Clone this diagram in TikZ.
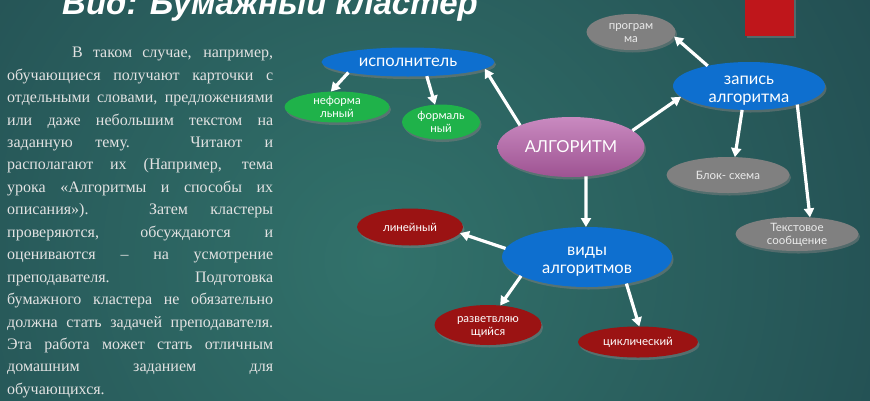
\documentclass[tikz,border=0pt]{standalone}
\usepackage{fontspec}
\setmainfont{Liberation Serif}
\newfontfamily\nodefont{Lato}
\newfontfamily\titlefont{Liberation Sans}
\usetikzlibrary{shapes.geometric,arrows.meta,shadows}
\definecolor{bgin}{HTML}{32726B}
\definecolor{bgout}{HTML}{17333F}
\definecolor{nblue}{HTML}{0E6FCF}
\definecolor{ngreen}{HTML}{1FB24A}
\definecolor{ngray}{HTML}{808080}
\definecolor{nred}{HTML}{9B1313}
\definecolor{ptop}{HTML}{C98AC0}
\definecolor{pbot}{HTML}{9E5392}
\definecolor{rrect}{HTML}{BF161B}
\definecolor{ptext}{HTML}{E2E2E2}
\tikzset{
  bub/.style={ellipse, inner sep=0pt, outer sep=0pt, align=center, text=white,
    drop shadow={shadow xshift=1.5pt, shadow yshift=-2.5pt, opacity=0.5}},
  bigbub/.style={bub, font=\nodefont\fontsize{16.5}{18}\selectfont},
  smallbub/.style={bub, font=\nodefont\fontsize{11.5}{13}\selectfont},
  bluebub/.style={bigbub, fill=nblue},
  greenbub/.style={smallbub, fill=ngreen},
  graybub/.style={smallbub, fill=ngray, text=white!92!black},
  redbub/.style={smallbub, fill=nred},
  twobig/.style={text height=32pt, text depth=0pt},
  twosmall/.style={text height=20pt, text depth=0pt},
  arr/.style={draw=white, line width=3.2pt, -{Triangle[length=9pt,width=10pt]}},
}
\begin{document}
\begin{tikzpicture}[x=1pt,y=-1pt]
\useasboundingbox (0,0) rectangle (870,400);
\begin{scope}
  \clip (0,0) rectangle (870,400);
  \shade[inner color=bgin, outer color=bgout] (380,260) circle (1000);
\end{scope}
% title
\node[anchor=base west, inner sep=0pt, text=white,
  font=\titlefont\bfseries\itshape\fontsize{33}{33}\selectfont] (title) at (62,14) {Вид: Бумажный кластер};
% red rectangle
\node[fill=rrect, minimum width=49pt, minimum height=42pt, inner sep=0pt,
  drop shadow={shadow xshift=1.5pt, shadow yshift=-2pt, opacity=0.5}] (rect) at (769.5,15) {};
% paragraph
\node[anchor=north west, inner sep=0pt, text width=266pt, align=justify, text=ptext,
  font=\fontsize{16}{22.45}\selectfont] (para) at (7,47) {%
\hspace*{65pt}В таком случае, например,\linebreak
обучающиеся получают карточки с\linebreak
отдельными словами, предложениями\linebreak
или даже небольшим текстом на\linebreak
заданную тему. Читают и\linebreak
располагают их (Например, тема\linebreak
урока «Алгоритмы и способы их\linebreak
описания»). Затем кластеры\linebreak
проверяются, обсуждаются и\linebreak
оцениваются – на усмотрение\linebreak
преподавателя. Подготовка\linebreak
бумажного кластера не обязательно\linebreak
должна стать задачей преподавателя.\linebreak
Эта работа может стать отличным\linebreak
домашним заданием для\linebreak
обучающихся.};
% nodes
\node[bluebub, minimum width=173pt, minimum height=29pt] (isp) at (408,62) {исполнитель};
\node[greenbub, twosmall, minimum width=105pt, minimum height=31pt] (nef) at (337,107) {неформа\\льный};
\node[greenbub, twosmall, minimum width=78pt, minimum height=35pt] (form) at (441,122) {формаль\\ный};
\node[bigbub, top color=ptop, bottom color=pbot, minimum width=147pt, minimum height=60pt] (alg) at (571,147) {АЛГОРИТМ};
\node[bluebub, twobig, minimum width=152pt, minimum height=48pt] (zap) at (749,86) {запись\\алгоритма};
\node[graybub, twosmall, minimum width=89pt, minimum height=36pt] (prog) at (631,32) {програм\\ма};
\node[graybub, minimum width=123pt, minimum height=36pt] (blok) at (728,175) {Блок- схема};
\node[graybub, twosmall, minimum width=123pt, minimum height=34pt] (tekst) at (797,234) {Текстовое\\сообщение};
\node[bluebub, twobig, minimum width=170pt, minimum height=60pt] (vid) at (587,257) {виды\\алгоритмов};
\node[redbub, minimum width=106pt, minimum height=37pt] (lin) at (410,227) {линейный};
\node[redbub, twosmall, minimum width=107pt, minimum height=40pt] (razv) at (488,325) {разветвляю\\щийся};
\node[redbub, minimum width=120pt, minimum height=31pt] (cikl) at (638,342) {циклический};
% arrows
\draw[arr] (isp.190) -- (nef.112);
\draw[arr] (isp.-37) -- (form.109);
\draw[arr] (alg.157) -- (isp.-5);
\draw[arr] (alg.15) -- (zap.189);
\draw[arr] (zap.154) -- (prog.-6);
\draw[arr] (zap.-106) -- (blok.69);
\draw[arr] (zap.-21) -- (tekst.52);
\draw[arr] (alg.-63) -- (vid.92);
\draw[arr] (vid.174) -- (lin.-7);
\draw[arr] (vid.196) -- (razv.58);
\draw[arr] (vid.-34) -- (cikl.85);
\end{tikzpicture}
\end{document}
